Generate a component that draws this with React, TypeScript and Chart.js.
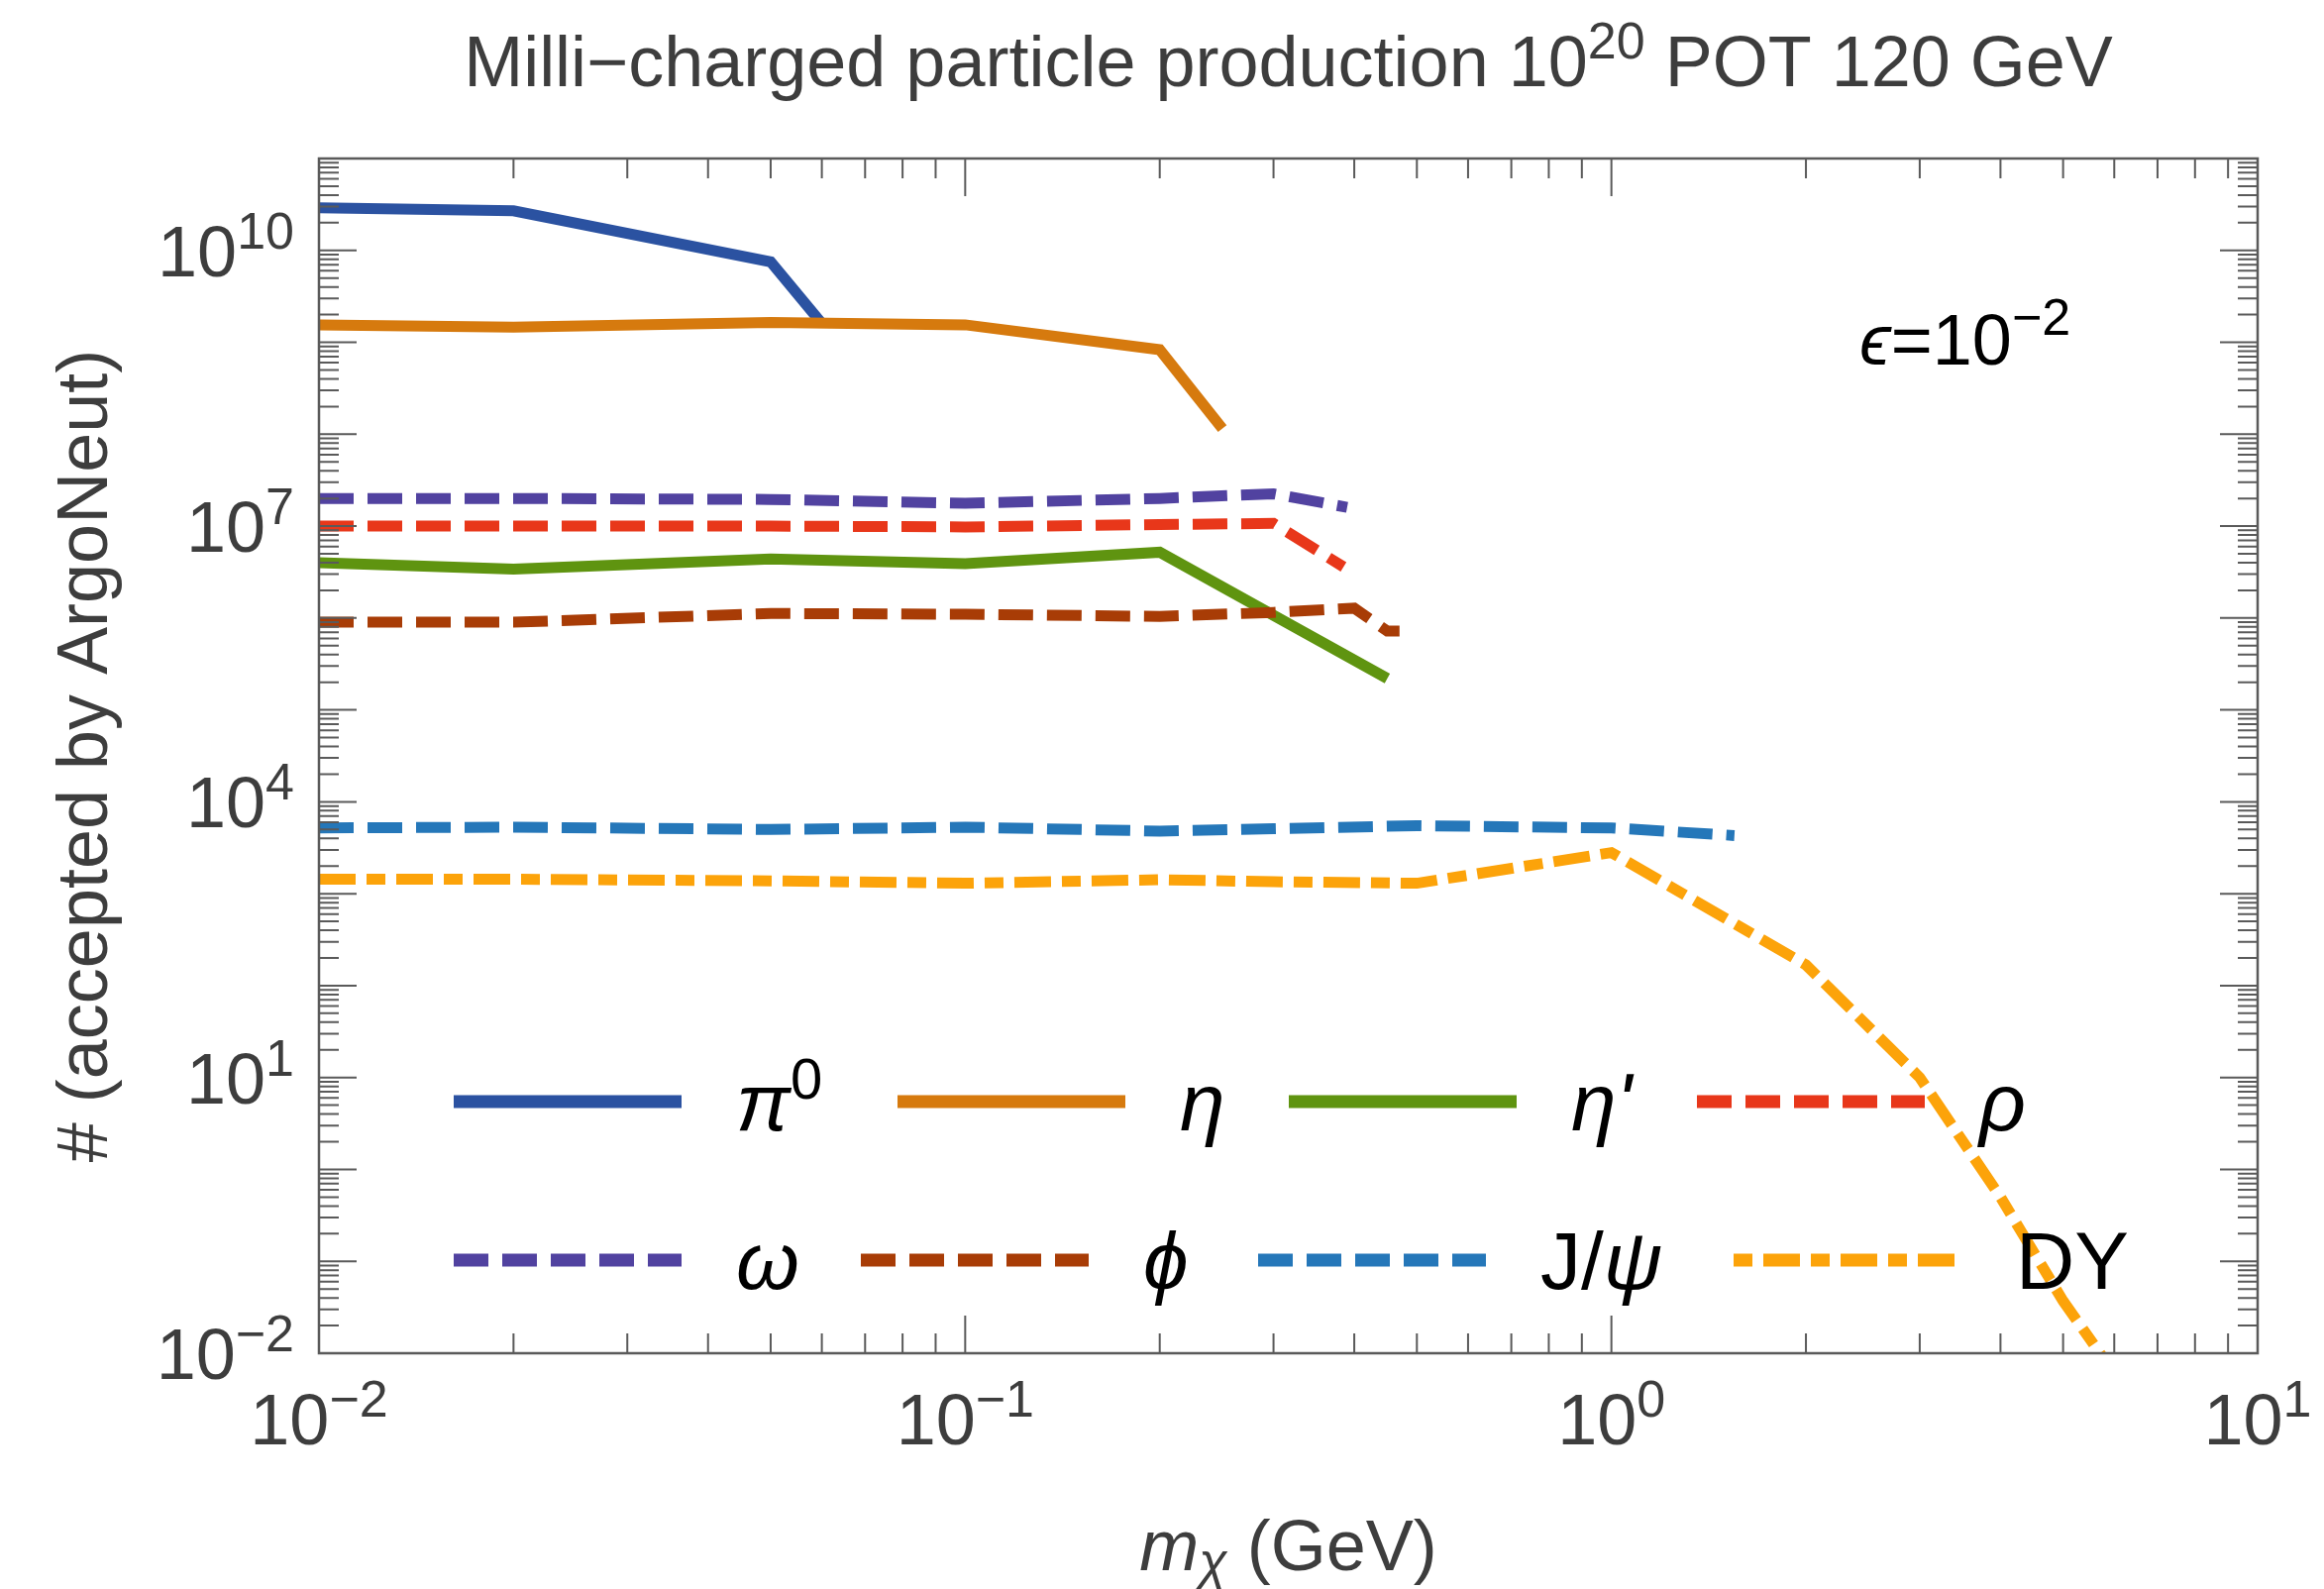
import React, { useEffect, useRef } from "react";
import { Chart, registerables } from "chart.js";

Chart.register(...registerables);

// ---------- data (mass in GeV, number of accepted particles) ----------
const pi0Mass = [0.01, 0.02, 0.05, 0.06];
const pi0Vals = [2.9e10, 2.7e10, 7.5e9, 1.6e9];

const etaMass = [0.01, 0.02, 0.05, 0.1, 0.2, 0.25];
const etaVals = [1.55e9, 1.46e9, 1.64e9, 1.55e9, 8.3e8, 1.15e8];

const etaPrimeMass = [0.01, 0.02, 0.05, 0.1, 0.2, 0.45];
const etaPrimeVals = [4.0e6, 3.4e6, 4.4e6, 3.9e6, 5.2e6, 2.2e5];

const rhoMass = [0.01, 0.02, 0.05, 0.1, 0.2, 0.3, 0.385];
const rhoVals = [1.0e7, 1.0e7, 1.0e7, 9.8e6, 1.04e7, 1.07e7, 3.6e6];

const omegaMass = [0.01, 0.02, 0.05, 0.1, 0.2, 0.3, 0.39];
const omegaVals = [2.0e7, 2.0e7, 1.95e7, 1.77e7, 2.0e7, 2.25e7, 1.6e7];

const phiMass = [0.01, 0.02, 0.05, 0.1, 0.2, 0.3, 0.4, 0.45, 0.47];
const phiVals = [9.0e5, 9.0e5, 1.12e6, 1.1e6, 1.04e6, 1.15e6, 1.28e6, 7.2e5, 7.2e5];

const jpsiMass = [0.01, 0.02, 0.05, 0.1, 0.2, 0.3, 0.5, 1, 1.55];
const jpsiVals = [5.2e3, 5.3e3, 5.0e3, 5.3e3, 4.8e3, 5.1e3, 5.5e3, 5.2e3, 4.3e3];

const dyMass = [0.01, 0.02, 0.05, 0.1, 0.2, 0.3, 0.5, 1, 2, 3, 4, 5, 6];
const dyVals = [1.44e3, 1.44e3, 1.38e3, 1.3e3, 1.42e3, 1.35e3, 1.3e3, 2.8e3, 168, 10, 0.5, 0.037, 0.006];

const xTickExps = [-2, -1, 0, 1];
const yTickExps = [-2, 1, 4, 7, 10];

const titleMain = "Milli\u2212charged particle production 10";
const titleSup = "20";
const titleTail = " POT 120 GeV";
const yTitle = "# (accepted by ArgoNeut)";

// ---------- styling ----------
const FONT = "'Liberation Sans', Arial, 'DejaVu Sans', sans-serif";
const GREY = "#3d3d3d";
const AXIS = "#5a5a5a";

const DASH = [35, 14];
const DOTDASH = [37, 11, 19, 11];

type Run = { t: string; size: number; italic?: boolean; dy?: number; color?: string };

function drawRuns(ctx: CanvasRenderingContext2D, runs: Run[], x: number, y: number, align: "left" | "center" | "right", color: string) {
  const widths: number[] = [];
  let total = 0;
  for (const r of runs) {
    ctx.font = `${r.italic ? "italic " : ""}${r.size}px ${FONT}`;
    const w = ctx.measureText(r.t).width;
    widths.push(w);
    total += w;
  }
  let cx = align === "left" ? x : align === "center" ? x - total / 2 : x - total;
  ctx.textAlign = "left";
  ctx.textBaseline = "alphabetic";
  runs.forEach((r, i) => {
    ctx.font = `${r.italic ? "italic " : ""}${r.size}px ${FONT}`;
    ctx.fillStyle = r.color || color;
    ctx.fillText(r.t, cx, y + (r.dy || 0));
    cx += widths[i];
  });
}

function supLabel(exp: number): Run[] {
  const e = exp < 0 ? "\u2212" + Math.abs(exp) : String(exp);
  return [
    { t: "10", size: 72 },
    { t: e, size: 52, dy: -28 },
  ];
}

type SeriesDef = {
  label: Run[];
  mass: number[];
  vals: number[];
  color: string;
  dash: number[];
  legendDash: number[];
  row: number;
  lx: number;
};

const series: SeriesDef[] = [
  { label: [{ t: "\u03C0", size: 82, italic: true }, { t: "0", size: 58, dy: -32 }], mass: pi0Mass, vals: pi0Vals, color: "#2b52a1", dash: [], legendDash: [], row: 0, lx: 458 },
  { label: [{ t: "\u03B7", size: 82, italic: true }], mass: etaMass, vals: etaVals, color: "#d67a0e", dash: [], legendDash: [], row: 0, lx: 906 },
  { label: [{ t: "\u03B7'", size: 82, italic: true }], mass: etaPrimeMass, vals: etaPrimeVals, color: "#5f9410", dash: [], legendDash: [], row: 0, lx: 1301 },
  { label: [{ t: "\u03C1", size: 82, italic: true }], mass: rhoMass, vals: rhoVals, color: "#e8371a", dash: DASH, legendDash: DASH, row: 0, lx: 1713 },
  { label: [{ t: "\u03C9", size: 82, italic: true }], mass: omegaMass, vals: omegaVals, color: "#5142a0", dash: DASH, legendDash: DASH, row: 1, lx: 458 },
  { label: [{ t: "\u03D5", size: 82, italic: true }], mass: phiMass, vals: phiVals, color: "#a83c06", dash: DASH, legendDash: DASH, row: 1, lx: 869 },
  { label: [{ t: "J/", size: 82 }, { t: "\u03C8", size: 82, italic: true }], mass: jpsiMass, vals: jpsiVals, color: "#2577b9", dash: DASH, legendDash: DASH, row: 1, lx: 1270 },
  { label: [{ t: "DY", size: 82 }], mass: dyMass, vals: dyVals, color: "#fca30a", dash: DOTDASH, legendDash: [19, 11, 37, 11], row: 1, lx: 1750 },
];

const overlayPlugin = {
  id: "overlay",
  afterDraw(chart: any) {
    const ctx: CanvasRenderingContext2D = chart.ctx;
    const { left, right, top, bottom } = chart.chartArea;
    const xs = chart.scales.x;
    const ys = chart.scales.y;
    ctx.save();

    // legend
    const rowY = [1112, 1272];
    for (const s of series) {
      const y = rowY[s.row];
      ctx.beginPath();
      ctx.setLineDash(s.legendDash);
      ctx.lineDashOffset = 0;
      ctx.lineCap = "butt";
      ctx.strokeStyle = s.color;
      ctx.lineWidth = 13;
      ctx.moveTo(s.lx, y);
      ctx.lineTo(s.lx + 230, y);
      ctx.stroke();
      ctx.setLineDash([]);
      drawRuns(ctx, s.label, s.lx + 285, y + 29, "left", "#000");
    }

    // frame
    ctx.strokeStyle = AXIS;
    ctx.lineWidth = 2.5;
    ctx.strokeRect(left, top, right - left, bottom - top);

    // ticks
    ctx.lineWidth = 2;
    ctx.beginPath();
    for (let d = -2; d <= 1; d++) {
      for (let k = 1; k <= 9; k++) {
        if (d === 1 && k > 1) break;
        const v = k * Math.pow(10, d);
        const px = xs.getPixelForValue(v);
        const len = k === 1 ? 38 : 20;
        ctx.moveTo(px, bottom);
        ctx.lineTo(px, bottom - len);
        ctx.moveTo(px, top);
        ctx.lineTo(px, top + len);
      }
    }
    for (let d = -2; d <= 11; d++) {
      for (let k = 1; k <= 9; k++) {
        if (d === 11 && k > 1) break;
        const v = k * Math.pow(10, d);
        const py = ys.getPixelForValue(v);
        const len = k === 1 ? 38 : 20;
        ctx.moveTo(left, py);
        ctx.lineTo(left + len, py);
        ctx.moveTo(right, py);
        ctx.lineTo(right - len, py);
      }
    }
    ctx.stroke();

    // tick labels
    for (const e of xTickExps) {
      const px = xs.getPixelForValue(Math.pow(10, e));
      drawRuns(ctx, supLabel(e), px, bottom + 92, "center", GREY);
    }
    for (const e of yTickExps) {
      const py = ys.getPixelForValue(Math.pow(10, e));
      drawRuns(ctx, supLabel(e), left - 25, py + 26, "right", GREY);
    }

    // title
    drawRuns(
      ctx,
      [
        { t: titleMain, size: 72 },
        { t: titleSup, size: 52, dy: -28 },
        { t: titleTail, size: 72 },
      ],
      (left + right) / 2,
      87,
      "center",
      GREY
    );

    // x title
    drawRuns(
      ctx,
      [
        { t: "m", size: 72, italic: true },
        { t: "\u03C7", size: 52, italic: true, dy: 9 },
        { t: " (GeV)", size: 72 },
      ],
      (left + right) / 2,
      1585,
      "center",
      GREY
    );

    // y title
    ctx.save();
    ctx.translate(108, (top + bottom) / 2);
    ctx.rotate(-Math.PI / 2);
    ctx.font = `72px ${FONT}`;
    ctx.fillStyle = GREY;
    ctx.textAlign = "center";
    ctx.textBaseline = "alphabetic";
    ctx.fillText(yTitle, 0, 0);
    ctx.restore();

    // epsilon annotation
    drawRuns(
      ctx,
      [
        { t: "\u03F5", size: 72, italic: true },
        { t: "=10", size: 72 },
        { t: "\u22122", size: 52, dy: -30 },
      ],
      1877,
      368,
      "left",
      "#000"
    );

    ctx.restore();
  },
};

export default function App() {
  const ref = useRef<HTMLCanvasElement | null>(null);

  useEffect(() => {
    document.body.style.margin = "0";
    const canvas = ref.current;
    if (!canvas) return;
    const datasets = series.map((s, i) => ({
      label: s.label.map((r) => r.t).join(""),
      data: s.mass.map((m, j) => ({ x: m, y: s.vals[j] })),
      borderColor: s.color,
      backgroundColor: s.color,
      borderWidth: 11,
      borderDash: s.dash,
      borderCapStyle: "butt" as const,
      borderJoinStyle: "miter" as const,
      pointRadius: 0,
      tension: 0,
      fill: false,
      order: 20 - i,
    }));
    const chart = new Chart(canvas, {
      type: "line",
      data: { datasets },
      options: {
        animation: false,
        responsive: false,
        devicePixelRatio: 1,
        layout: { padding: { left: 322, top: 160, right: 67, bottom: 238 } },
        plugins: { legend: { display: false }, tooltip: { enabled: false }, title: { display: false } },
        scales: {
          x: { type: "logarithmic", min: 0.01, max: 10, display: false },
          y: { type: "logarithmic", min: 0.01, max: 1e11, display: false },
        },
      },
      plugins: [overlayPlugin],
    });
    return () => chart.destroy();
  }, []);

  return (
    <div style={{ width: 2346, height: 1604, background: "#fff" }}>
      <canvas ref={ref} width={2346} height={1604} style={{ display: "block" }} />
    </div>
  );
}
